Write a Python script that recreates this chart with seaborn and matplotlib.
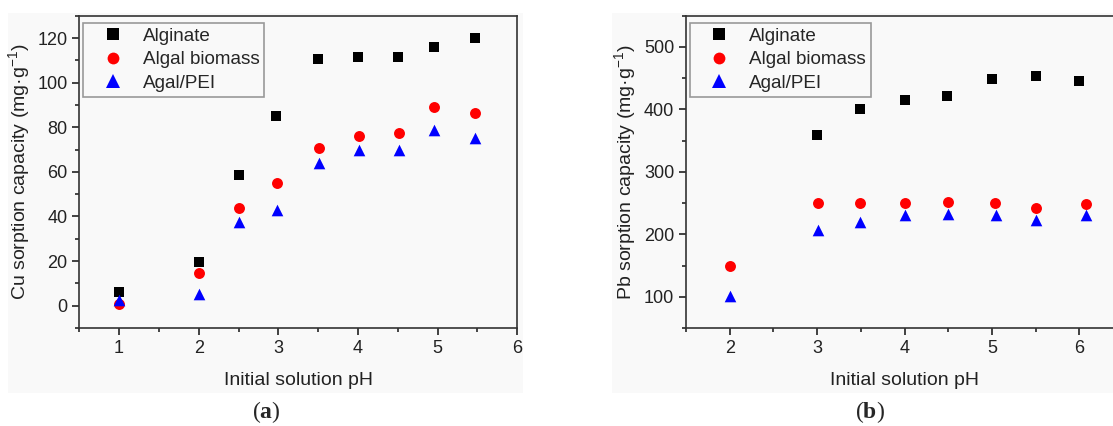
import numpy as np
import pandas as pd
import matplotlib
matplotlib.use("Agg")
import matplotlib.pyplot as plt
import matplotlib.patches as mpatches
from matplotlib.lines import Line2D
from matplotlib.ticker import MultipleLocator
import seaborn as sns

# ---------------------------------------------------------------
# Data
# ---------------------------------------------------------------
series = ["Alginate", "Algal biomass", "Agal/PEI"]

# (a) Cu
cu_ph_alg = [1.0, 2.0, 2.5, 2.97, 3.50, 4.00, 4.50, 4.95, 5.47]
cu_alg = [6.0, 19.8, 58.6, 85.1, 110.5, 111.4, 111.6, 116.1, 119.8]
cu_ph_bio = [1.0, 2.0, 2.5, 2.98, 3.51, 4.01, 4.51, 4.96, 5.47]
cu_bio = [0.6, 14.7, 43.6, 55.1, 70.7, 76.1, 77.5, 88.9, 86.2]
cu_ph_pei = [1.0, 2.0, 2.5, 2.98, 3.51, 4.01, 4.51, 4.96, 5.47]
cu_pei = [2.6, 5.1, 37.6, 42.7, 64.1, 70.0, 70.0, 78.7, 75.0]

# (b) Pb
pb_ph_alg = [3.0, 3.49, 4.0, 4.49, 5.0, 5.51, 6.0]
pb_alg = [358.5, 401.0, 414.3, 421.8, 449.4, 453.2, 445.7]
pb_ph_bio = [2.0, 3.01, 3.49, 4.0, 4.5, 5.04, 5.5, 6.08]
pb_bio = [149.5, 249.5, 250.6, 250.6, 251.6, 250.0, 242.6, 247.9]
pb_ph_pei = [2.0, 3.01, 3.49, 4.0, 4.5, 5.05, 5.5, 6.08]
pb_pei = [100.6, 206.9, 219.7, 230.3, 233.0, 230.3, 223.5, 230.3]

colors = {"Alginate": "black", "Algal biomass": "#ff0000", "Agal/PEI": "#0000ff"}
markers = {"Alginate": "s", "Algal biomass": "o", "Agal/PEI": "^"}
sizes = {"Alginate": 55, "Algal biomass": 62, "Agal/PEI": 70}


def make_df(xs, ys):
    frames = []
    for name, x, y in zip(series, xs, ys):
        frames.append(pd.DataFrame({"pH": x, "q": y, "Material": name}))
    return pd.concat(frames, ignore_index=True)


df_cu = make_df([cu_ph_alg, cu_ph_bio, cu_ph_pei], [cu_alg, cu_bio, cu_pei])
df_pb = make_df([pb_ph_alg, pb_ph_bio, pb_ph_pei], [pb_alg, pb_bio, pb_pei])

# ---------------------------------------------------------------
# Style
# ---------------------------------------------------------------
sns.set_style("ticks")
plt.rcParams["font.family"] = ["Liberation Sans", "DejaVu Sans"]
plt.rcParams["mathtext.fontset"] = "custom"
plt.rcParams["mathtext.rm"] = "Liberation Sans"
plt.rcParams["mathtext.it"] = "Liberation Sans:italic"
plt.rcParams["mathtext.bf"] = "Liberation Serif:bold"

BG = "#f9f9f9"
fig = plt.figure(figsize=(11.13, 4.26), dpi=100)
fig.patch.set_facecolor("white")

# light grey panels behind each chart
W, H = 1113, 426
for x0, x1 in [(8, 523), (612, 1113)]:
    fig.patches.append(mpatches.Rectangle((x0 / W, (H - 393) / H), (x1 - x0) / W, (393 - 13) / H,
                                          transform=fig.transFigure, facecolor=BG,
                                          edgecolor="none", zorder=-10))

ax1 = fig.add_axes([79.3 / W, (H - 328) / H, 438 / W, (328 - 15.7) / H])
ax2 = fig.add_axes([686 / W, (H - 328) / H, 437 / W, (328 - 15.7) / H])


def draw(ax, df, ylabel, xlim, ylim, ymaj, ymin, xticks):
    for name in series:
        sub = df[df["Material"] == name]
        sns.scatterplot(data=sub, x="pH", y="q", color=colors[name], marker=markers[name],
                        s=sizes[name], linewidth=0, ax=ax, legend=False, zorder=3)
    ax.set_facecolor(BG)
    ax.set_xlim(*xlim)
    ax.set_ylim(*ylim)
    ax.set_xticks(xticks)
    ax.xaxis.set_minor_locator(MultipleLocator(0.5))
    ax.yaxis.set_major_locator(MultipleLocator(ymaj))
    ax.yaxis.set_minor_locator(MultipleLocator(ymin))
    ax.tick_params(axis="both", which="major", direction="out", length=5, width=1.2,
                   labelsize=13, colors="#222222", top=False, right=False)
    ax.tick_params(axis="both", which="minor", direction="out", length=3, width=1.2,
                   top=False, right=False)
    for sp in ax.spines.values():
        sp.set_visible(True)
        sp.set_linewidth(1.2)
        sp.set_color("#333333")
    ax.set_xlabel("Initial solution pH", fontsize=14, labelpad=11, color="#222222")
    ax.set_ylabel(ylabel, fontsize=14, labelpad=4, color="#222222")

    handles = [Line2D([], [], linestyle="none", marker=markers[n], color=colors[n],
                      markersize=8.5 if n != "Agal/PEI" else 9.5, markeredgewidth=0)
               for n in series]
    leg = ax.legend(handles, series, loc="upper left", bbox_to_anchor=(0.009, 0.978),
                    borderaxespad=0, fontsize=13.6, frameon=True, fancybox=False,
                    labelspacing=0.34, handlelength=2.6, handletextpad=0.3,
                    borderpad=0.25)
    leg.get_frame().set_edgecolor("#999999")
    leg.get_frame().set_linewidth(1.2)
    leg.get_frame().set_facecolor(BG)
    leg.get_frame().set_alpha(1)


draw(ax1, df_cu, r"Cu sorption capacity (mg·g$^{-1}$)", (0.5, 6), (-10, 130), 20, 10,
     [1, 2, 3, 4, 5, 6])
draw(ax2, df_pb, r"Pb sorption capacity (mg·g$^{-1}$)", (1.5, 6.5), (50, 550), 100, 50,
     [2, 3, 4, 5, 6])

fig.text(266 / W, (H - 412) / H, r"($\mathbf{a}$)", ha="center", va="center",
         fontsize=17, family="Liberation Serif")
fig.text(870 / W, (H - 412) / H, r"($\mathbf{b}$)", ha="center", va="center",
         fontsize=17, family="Liberation Serif")

fig.savefig("out.png", dpi=100, facecolor="white")
